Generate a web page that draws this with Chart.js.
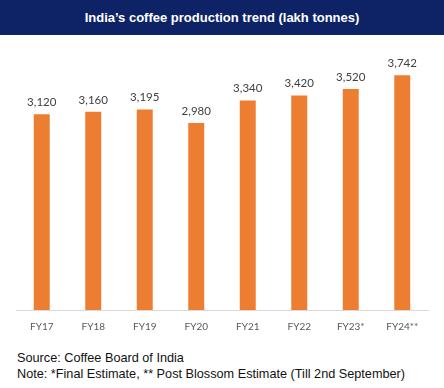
<!DOCTYPE html>
<html>
<head>
<meta charset="utf-8">
<script src="https://cdn.jsdelivr.net/npm/chart.js@4"></script>
<style>
  html, body { margin: 0; padding: 0; background: #fff; }
  #page { position: relative; width: 444px; height: 388px; overflow: hidden; }
  #banner {
    position: absolute; left: 0; top: 0; width: 444px; height: 35px;
    background: #0d2366; color: #fff;
    font: bold 13px "Liberation Sans", Arial, sans-serif;
    text-align: center; line-height: 35px;
  }
  #wrap { position: absolute; left: 0; top: 35px; width: 444px; height: 309px; }
  #foot {
    position: absolute; left: 17px; top: 350px;
    font: 12.7px "Liberation Sans", Arial, sans-serif; color: #111; line-height: 16px;
  }
</style>
</head>
<body>
<div id="page">
  <div id="banner">India’s coffee production trend (lakh tonnes)</div>
  <div id="wrap"><canvas id="chart"></canvas></div>
  <div id="foot">
    <div>Source: Coffee Board of India</div>
    <div>Note: *Final Estimate, ** Post Blossom Estimate (Till 2nd September)</div>
  </div>
</div>
<script>
// data
const years = ['FY17', 'FY18', 'FY19', 'FY20', 'FY21', 'FY22', 'FY23*', 'FY24**'];
const production = [3120, 3160, 3195, 2980, 3340, 3420, 3520, 3742];

const orange = '#ED7D31';

// value labels above each bar
const barLabels = {
  id: 'barLabels',
  afterDatasetsDraw(chart) {
    const ctx = chart.ctx;
    const meta = chart.getDatasetMeta(0);
    ctx.save();
    ctx.font = '11.5px Lato, sans-serif';
    ctx.fillStyle = '#404040';
    ctx.textAlign = 'center';
    ctx.textBaseline = 'bottom';
    meta.data.forEach((bar, i) => {
      ctx.fillText(production[i].toLocaleString('en-US'), bar.x, bar.y - 6);
    });
    ctx.restore();
  }
};

new Chart(document.getElementById('chart'), {
  type: 'bar',
  data: {
    labels: years,
    datasets: [{
      data: production,
      backgroundColor: orange,
      borderWidth: 0,
      barPercentage: 0.31,
      categoryPercentage: 1
    }]
  },
  options: {
    responsive: true,
    maintainAspectRatio: false,
    animation: false,
    layout: { padding: { left: 16, right: 16, top: 24, bottom: 0 } },
    plugins: {
      legend: { display: false },
      tooltip: { enabled: false }
    },
    scales: {
      x: {
        grid: { display: false, drawTicks: false },
        border: { display: true, color: '#d9d9d9', width: 1 },
        ticks: { color: '#595959', padding: 11, font: { family: 'Lato', size: 10 } }
      },
      y: {
        display: false,
        min: 0,
        max: 4000
      }
    }
  },
  plugins: [barLabels]
});
</script>
</body>
</html>
